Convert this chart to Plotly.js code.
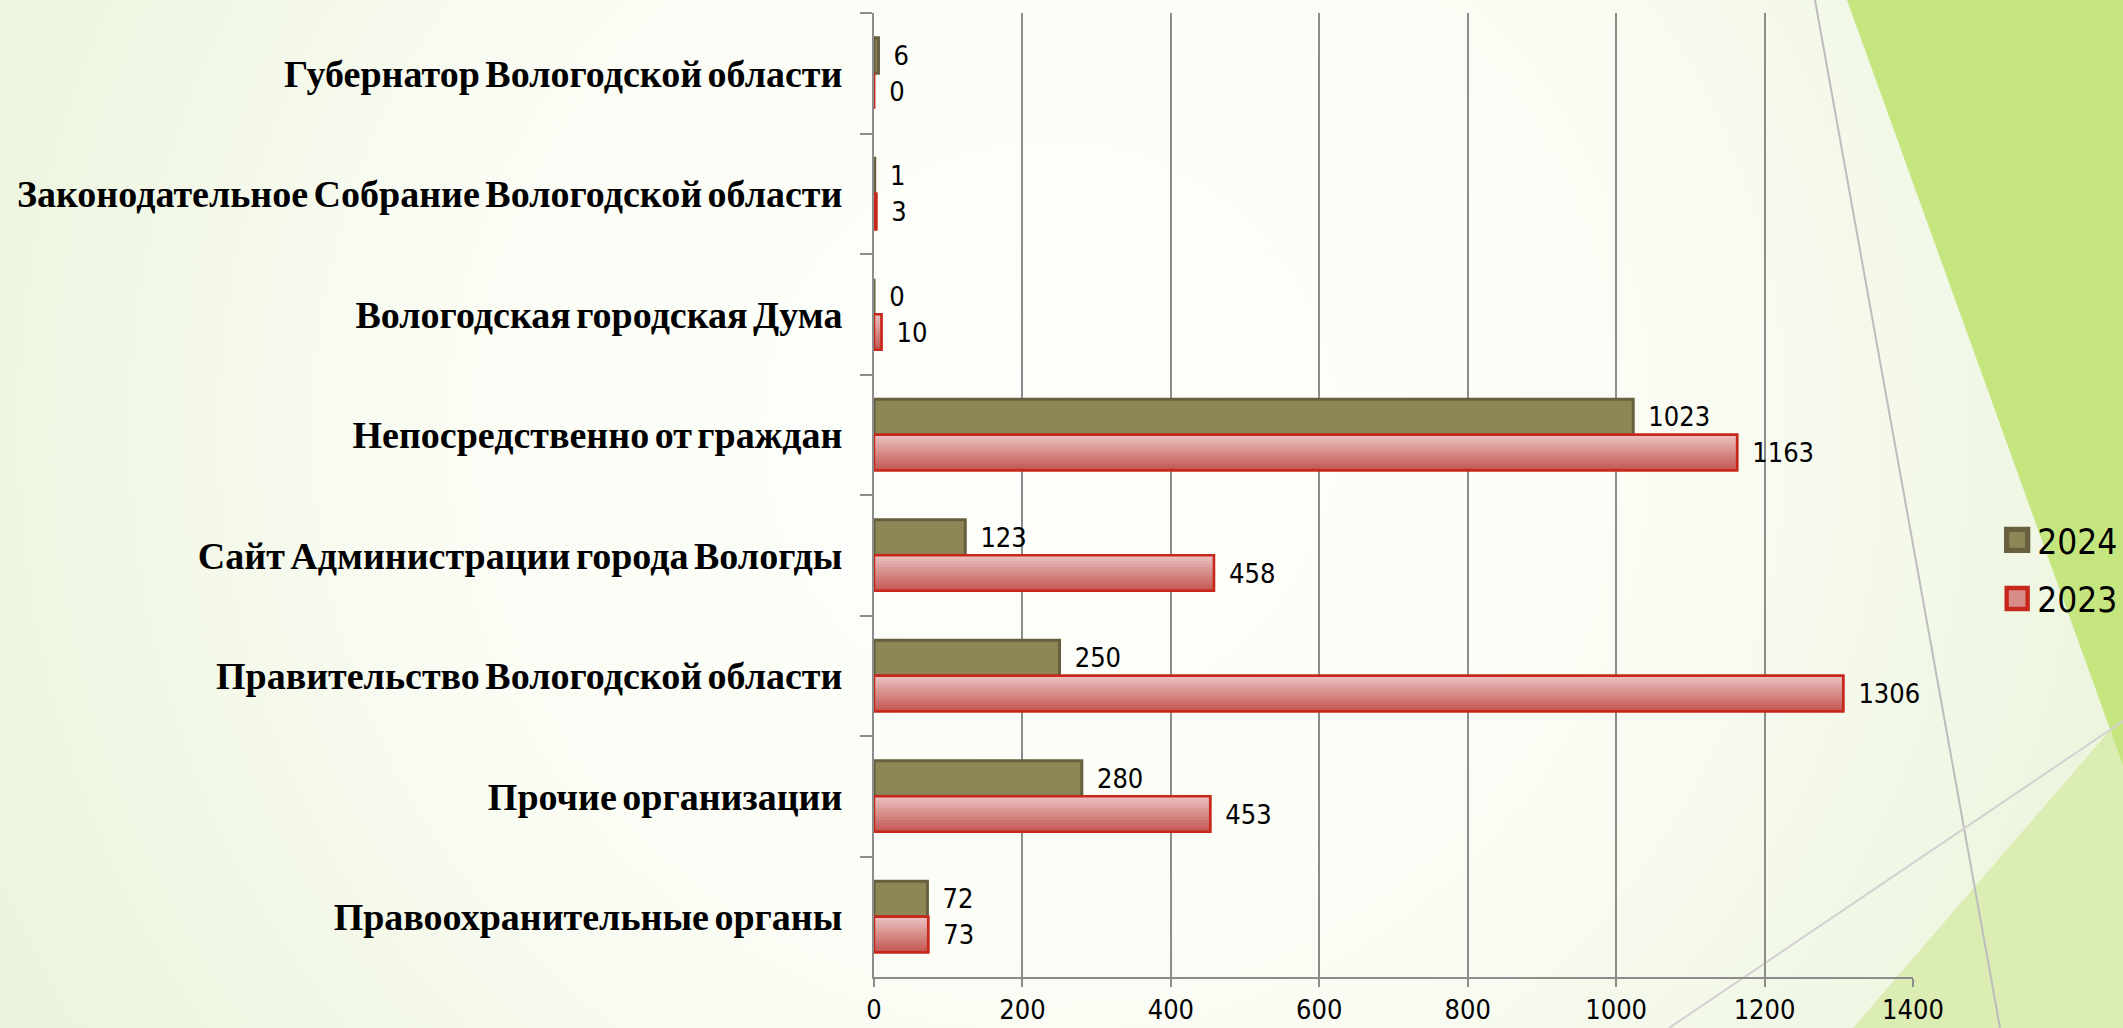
<!DOCTYPE html>
<html>
<head>
<meta charset="utf-8">
<script src="https://cdn.plot.ly/plotly-3.0.1.min.js"></script>
<style>
  html, body { margin: 0; padding: 0; width: 2123px; height: 1028px; overflow: hidden; }
  #bg { position: absolute; left: 0; top: 0; width: 2123px; height: 1028px; z-index: 0; }
  #chart { position: absolute; left: 0; top: 0; width: 2123px; height: 1028px; z-index: 1; }
  #chart .ytick text { word-spacing: -4px; }
</style>
</head>
<body>
<svg id="bg" width="2123" height="1028" xmlns="http://www.w3.org/2000/svg">
  <defs>
    <radialGradient id="rg" cx="1050" cy="430" r="1150" gradientUnits="userSpaceOnUse">
      <stop offset="0" stop-color="#FEFFFC"/>
      <stop offset="0.55" stop-color="#FAFCF4"/>
      <stop offset="1" stop-color="#EBF4DC"/>
    </radialGradient>
  </defs>
  <rect x="0" y="0" width="2123" height="1028" fill="url(#rg)"/>
  <polygon points="1900,1028 2123,700 2123,1028" fill="#EEF6E0"/>
  <polygon points="1853,1028 2110,730 2123,730 2123,1028" fill="#DCEDB4"/>
  <polygon points="1847,0 2123,0 2123,765" fill="#C5E57E"/>
  <line x1="1815" y1="0" x2="2000" y2="1028" stroke="#BDBDBD" stroke-width="2"/>
  <line x1="1669" y1="1028" x2="2123" y2="721" stroke="#D2D2D2" stroke-width="2"/>
</svg>
<div id="chart"></div>
<script>
// Categories, top to bottom
const categories = [
  "Губернатор Вологодской области",
  "Законодательное Собрание Вологодской области",
  "Вологодская городская Дума",
  "Непосредственно от граждан",
  "Сайт Администрации города Вологды",
  "Правительство Вологодской области",
  "Прочие организации",
  "Правоохранительные органы"
];
const values2024 = [6, 1, 0, 1023, 123, 250, 280, 72];
const values2023 = [0, 3, 10, 1163, 458, 1306, 453, 73];
const seriesNames = ["2024", "2023"];
const xTickValues = [0, 200, 400, 600, 800, 1000, 1200, 1400];

const sansFont = "DejaVu Sans Condensed";
const labelFont = { family: sansFont, size: 27, color: "#000000" };
const BAR_W = 0.295;   // thickness of one bar, in category units

const traces = [];
// 2024 series (upper bar of each pair)
traces.push({
  type: "bar", orientation: "h",
  y: categories, x: values2024, name: seriesNames[0],
  offset: -BAR_W, width: BAR_W,
  marker: { color: "#8F8656", line: { color: "#675F3E", width: 3 } },
  texttemplate: "\u2002%{x}", textposition: "outside",
  textfont: labelFont, cliponaxis: false, constraintext: "none",
  legendgroup: "a", hoverinfo: "none"
});
// 2023 series base (legend entry + labels)
traces.push({
  type: "bar", orientation: "h",
  y: categories, x: values2023, name: seriesNames[1],
  offset: 0, width: BAR_W,
  marker: { color: "#D88C88", line: { color: "#C8281C", width: 2.5 } },
  texttemplate: "\u2002%{x}", textposition: "outside",
  textfont: labelFont, cliponaxis: false, constraintext: "none",
  legendgroup: "b", hoverinfo: "none"
});
// 2023 vertical colour gradient (light pink at top -> deeper red at bottom)
const N = 12;
const c0 = [233, 190, 189], c1 = [197, 90, 85];
for (let i = 0; i < N; i++) {
  const t = i / (N - 1);
  const col = "rgb(" + c0.map((v, k) => Math.round(v + (c1[k] - v) * t)).join(",") + ")";
  traces.push({
    type: "bar", orientation: "h",
    y: categories, x: values2023,
    offset: BAR_W * i / N, width: BAR_W * (1 - i / N),
    marker: { color: col, line: { width: 0 } },
    showlegend: false, hoverinfo: "none", textposition: "none"
  });
}
// 2023 outline on top
traces.push({
  type: "bar", orientation: "h",
  y: categories, x: values2023,
  offset: 0, width: BAR_W,
  marker: { color: "rgba(0,0,0,0)", line: { color: "#C8281C", width: 2.5 } },
  showlegend: false, hoverinfo: "none", textposition: "none"
});

const axisGrey = "#8C8C8C";
const layout = {
  width: 2123, height: 1028,
  margin: { l: 874, r: 210, t: 13, b: 51, autoexpand: false },
  paper_bgcolor: "rgba(0,0,0,0)",
  plot_bgcolor: "rgba(0,0,0,0)",
  barmode: "overlay",
  showlegend: true,
  legend: {
    x: 1.081, xanchor: "left", y: 0.423, yanchor: "middle",
    font: { family: sansFont, size: 35, color: "#000000" },
    bgcolor: "rgba(0,0,0,0)", traceorder: "grouped", tracegroupgap: 10
  },
  xaxis: {
    range: [0, 1400], tickvals: xTickValues,
    showgrid: true, gridcolor: axisGrey, gridwidth: 2,
    showline: true, linecolor: axisGrey, linewidth: 2,
    ticks: "outside", ticklen: 8, tickwidth: 2, tickcolor: axisGrey,
    zeroline: false,
    tickfont: { family: sansFont, size: 27, color: "#000000" }
  },
  yaxis: {
    type: "category", autorange: "reversed",
    showgrid: false, zeroline: false,
    showline: true, linecolor: axisGrey, linewidth: 2,
    ticks: "outside", tickson: "boundaries", ticklen: 12, tickwidth: 2, tickcolor: axisGrey,
    ticklabelstandoff: 22,
    tickfont: { family: "Liberation Serif", size: 38, weight: "bold", color: "#000000" }
  }
};

Plotly.newPlot("chart", traces, layout, { staticPlot: true, displayModeBar: false })
  .then(function () {
    document.querySelectorAll("#chart .legend .legendpoints path").forEach(function (p) {
      const t = p.getAttribute("transform") || "";
      p.setAttribute("transform", t + " scale(1.75)");
    });
  });
</script>
</body>
</html>
